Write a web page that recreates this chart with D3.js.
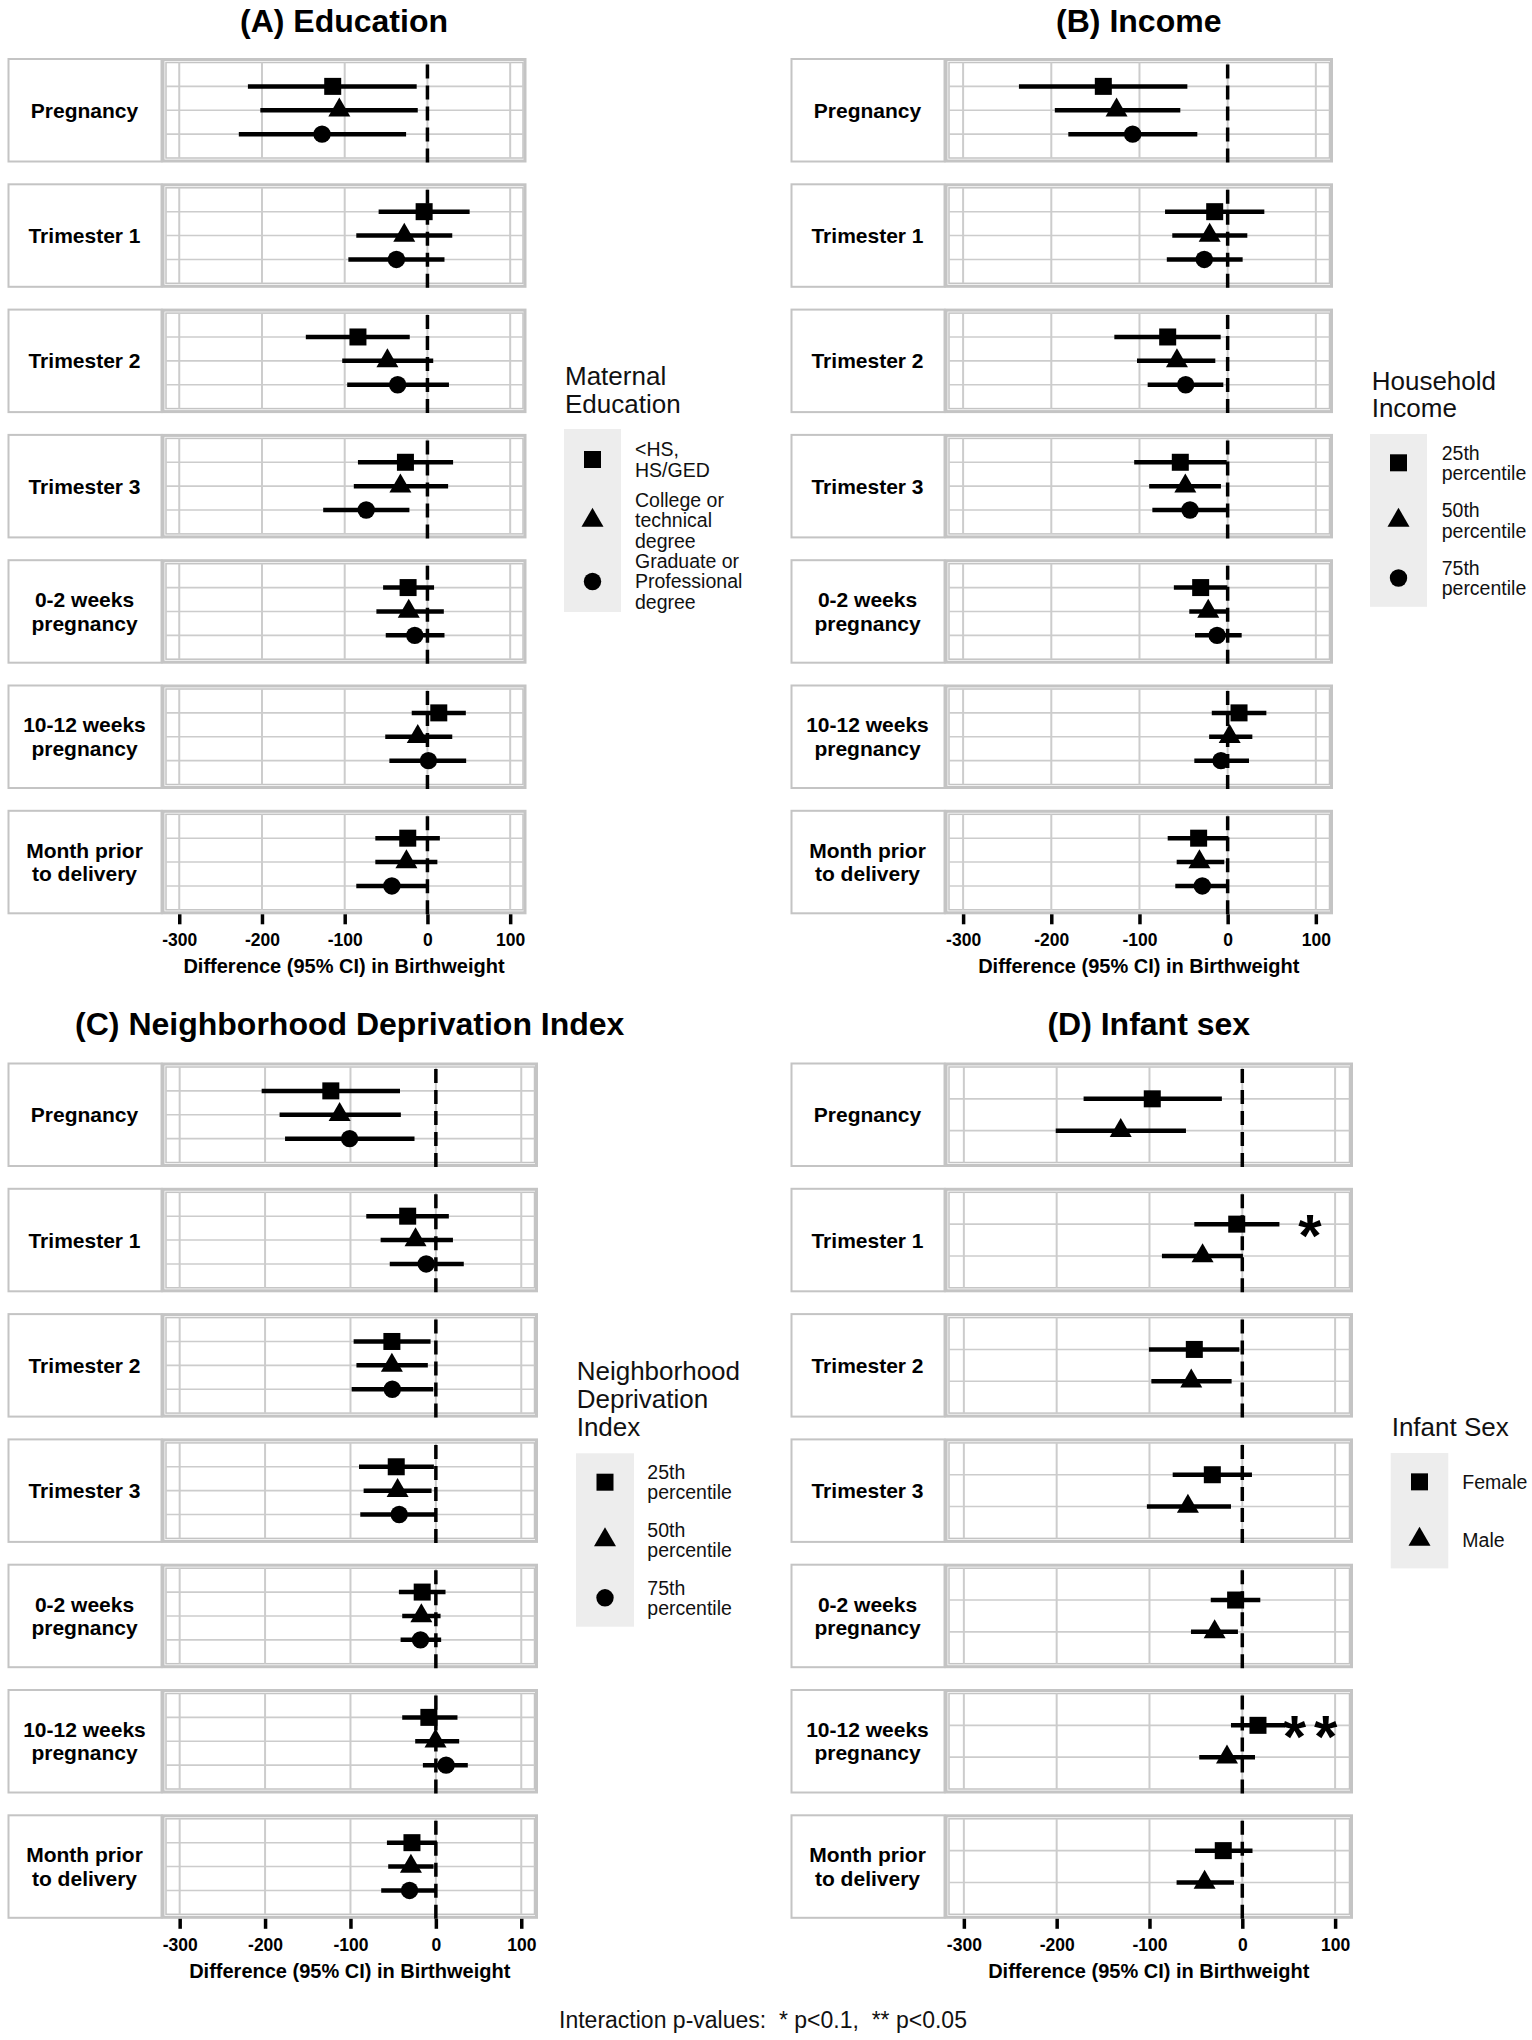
<!DOCTYPE html>
<html><head><meta charset="utf-8">
<script src="https://cdn.jsdelivr.net/npm/d3@7"></script>
<style>
body{margin:0;background:#fff}
svg{display:block;font-family:"Liberation Sans",Arial,Helvetica,sans-serif}
</style>
</head><body>
<svg id="chart" width="1532" height="2040"></svg>
<script>
// ---------------- DATA ----------------
const periodLabels = ["Pregnancy","Trimester 1","Trimester 2","Trimester 3","0-2 weeks\npregnancy","10-12 weeks\npregnancy","Month prior\nto delivery"];
const xTicks = [-300,-200,-100,0,100];
const xTickLabels = ["-300","-200","-100","0","100"];
const xDomain = [-316, 115.5];
const axisTitle = "Difference (95% CI) in Birthweight";
const footnote = "Interaction p-values:  * p<0.1,  ** p<0.05";

// (A) Education
const eduGroups = ["<HS,\nHS/GED","College or\ntechnical\ndegree","Graduate or\nProfessional\ndegree"];
const eduHsEst   = [-114.5,  -4, -84,  -26.6, -23.4, 13.7, -23.8];
const eduHsLo    = [-217,   -59, -147, -84,   -53.6, -19,  -63];
const eduHsHi    = [-13,     51, -21.4, 31,     8,   46.4,  15];
const eduColEst  = [-106.5, -28, -48.4, -32.7, -22.6, -11.7, -25.4];
const eduColLo   = [-202,   -86, -103,  -89,   -61.7, -51,   -63];
const eduColHi   = [-11.7,   30,   7,    25,    19.8,  30,    12];
const eduGradEst = [-127.4, -37.5, -36, -74,   -15.3,  1.2, -43];
const eduGradLo  = [-228,   -95.6, -97, -126,  -50.4, -46,  -86];
const eduGradHi  = [-25.8,   20.6,  26, -21.8,  20.6,  46.8,  0.8];

// (B) Income
const incGroups = ["25th\npercentile","50th\npercentile","75th\npercentile"];
const inc25Est = [-141,  -14.7, -68,   -53.7, -30.6, 12.9, -32.9];
const inc25Lo  = [-236.7,-71,  -128.5, -106,  -61,  -18,   -68];
const inc25Hi  = [-45.7,  41.6,  -7.9,  -1.1,  -0.4, 43.9,   0.8];
const inc50Est = [-126,  -20.4, -57.5, -48,   -22,    2.3, -32];
const inc50Lo  = [-196,  -62.8,-102.8, -89,   -43.5, -21,  -57.8];
const inc50Hi  = [-53.7,  22.3, -14,    -7.6,   0.8,  28,   -3.8];
const inc75Est = [-107.7,-26.5, -47.6, -42.7, -12,   -7.6, -28.7];
const inc75Lo  = [-180.7,-69,   -90.7, -85.4, -37,  -37.8, -59.4];
const inc75Hi  = [-34.4,  17,    -4.9,   0,    15.9, 24.2,   0];

// (C) Neighborhood Deprivation Index
const ndiGroups = ["25th\npercentile","50th\npercentile","75th\npercentile"];
const ndi25Est = [-123,  -33,   -51.5, -46.4, -16,   -8.2, -28];
const ndi25Lo  = [-204,  -81.5, -96.3, -90,   -43.3, -39.4, -57.3];
const ndi25Hi  = [-42,    15.2,  -6.2,  -2.3,  11.3,  25.3,   1.2];
const ndi50Est = [-112.7,-23.8, -51.5, -44.8, -17,   -0.4, -29.2];
const ndi50Lo  = [-183,  -64.7, -93,   -84.6, -39.4, -24.2, -55.8];
const ndi50Hi  = [-41,    20,    -9.4,  -5,     5.5,  27.3,  -2.7];
const ndi75Est = [-101,  -11.3, -51,   -42.9, -18,   12,   -30.8];
const ndi75Lo  = [-176.6,-54,   -98.6, -88.5, -41.3, -15.2, -64];
const ndi75Hi  = [-25,    32.7,  -3.1,   0,     6.2,  37.4,   0.4];

// (D) Infant sex
const sexGroups = ["Female","Male"];
const femEst  = [-97,  -6,   -51.7, -32.3, -7.2, 16.9, -20.5];
const femLo   = [-171, -51.7,-100.6,-75,   -34,  -12.2, -51];
const femHi   = [-22,   40,   -3.2,  10.4,  19.4, 46,    11];
const maleEst = [-131, -42.8, -55,  -58.6, -29.8,-16.5, -40.6];
const maleLo  = [-201, -86.6, -98, -102.8, -55.3,-46.4, -70.8];
const maleHi  = [-60.7,  0.7, -11.5, -12.2, -4.7, 13.7,  -9];
const sexStars = ["","*","","","","**",""];
const starValue = 73;

// ---------------- LAYOUT ----------------
const ROW_H = 104.5, PITCH = 125.3, INSET = 4.5;
const panels = [
  {title:"(A) Education", legendTitle:["Maternal","Education"], groups:eduGroups,
   est:[eduHsEst,eduColEst,eduGradEst], lo:[eduHsLo,eduColLo,eduGradLo], hi:[eduHsHi,eduColHi,eduGradHi],
   strip:7.5, x0:161.5, x1:526.5, top:58, titleY:32,
   leg:{x:564, w:57, top:429, keyH:61, titleX:565, titleBase:[385,412.7], labelX:635}},
  {title:"(B) Income", legendTitle:["Household","Income"], groups:incGroups,
   est:[inc25Est,inc50Est,inc75Est], lo:[inc25Lo,inc50Lo,inc75Lo], hi:[inc25Hi,inc50Hi,inc75Hi],
   strip:790.5, x0:944.5, x1:1333, top:58, titleY:32,
   leg:{x:1370, w:57, top:434, keyH:57.6, titleX:1371.7, titleBase:[390,417], labelX:1441.7}},
  {title:"(C) Neighborhood Deprivation Index", legendTitle:["Neighborhood","Deprivation","Index"], groups:ndiGroups,
   est:[ndi25Est,ndi50Est,ndi75Est], lo:[ndi25Lo,ndi50Lo,ndi75Lo], hi:[ndi25Hi,ndi50Hi,ndi75Hi],
   strip:7.5, x0:161.5, x1:538, top:1062.5, titleY:1035,
   leg:{x:576, w:58, top:1453.3, keyH:57.8, titleX:576.7, titleBase:[1380,1408.3,1436], labelX:647.3}},
  {title:"(D) Infant sex", legendTitle:["Infant Sex"], groups:sexGroups,
   est:[femEst,maleEst], lo:[femLo,maleLo], hi:[femHi,maleHi], stars:sexStars,
   strip:790.5, x0:944.5, x1:1353, top:1062.5, titleY:1035,
   leg:{x:1390.7, w:57.6, top:1453, keyH:57.7, titleX:1391.7, titleBase:[1435.6], labelX:1462.3}}
];

const svg = d3.select("#chart");
const GRID = "#cccccc", BORDER = "#c4c4c4";

function marker(g, shape, cx, cy) {
  if (shape === 0) {
    g.append("rect").attr("x", cx-8.5).attr("y", cy-8.5).attr("width", 17).attr("height", 17).attr("fill","#000");
  } else if (shape === 1) {
    g.append("path").attr("d", `M${cx},${cy-12.7}L${cx+11},${cy+6.3}L${cx-11},${cy+6.3}Z`).attr("fill","#000");
  } else {
    g.append("circle").attr("cx", cx).attr("cy", cy).attr("r", 8.7).attr("fill","#000");
  }
}

function multiline(g, lines, x, cy, size, lh, weight, anchor) {
  const t = g.append("text").attr("x", x).attr("font-size", size).attr("font-weight", weight)
    .attr("text-anchor", anchor).attr("fill", "#000");
  const first = cy - (lines.length-1)*lh/2 + 0.357*size;
  lines.forEach((ln, i) => t.append("tspan").attr("x", x).attr("y", first + i*lh).text(ln));
  return t;
}

panels.forEach(p => {
  const g = svg.append("g");
  const x = d3.scaleLinear().domain(xDomain).range([p.x0 + INSET, p.x1 - 3.5]);
  const n = p.groups.length;
  const cx = (p.x0 + p.x1) / 2;

  g.append("text").attr("x", cx).attr("y", p.titleY).attr("text-anchor","middle")
    .attr("font-size", 32).attr("font-weight","bold").text(p.title);

  periodLabels.forEach((lab, i) => {
    const top = p.top + i*PITCH, bot = top + ROW_H;
    const y = d3.scaleLinear().domain([0, n+1]).range([top + INSET, bot - INSET]);
    const row = g.append("g");
    row.append("rect").attr("x", p.strip+1).attr("y", top+1).attr("width", p.x0 - p.strip - 1).attr("height", ROW_H-2)
      .attr("fill","#fff").attr("stroke", BORDER).attr("stroke-width", 2);
    multiline(row, lab.split("\n"), (p.strip + p.x0)/2, top + ROW_H/2, 21, 23.5, "bold", "middle");
    row.append("rect").attr("x", p.x0+1.5).attr("y", top+1.5).attr("width", p.x1-p.x0-3).attr("height", ROW_H-3)
      .attr("fill","#fff").attr("stroke", BORDER).attr("stroke-width", 3);
    row.append("rect").attr("x", p.x0+INSET).attr("y", top+INSET).attr("width", p.x1-p.x0-INSET-3.5).attr("height", ROW_H-2*INSET)
      .attr("fill","none").attr("stroke", BORDER).attr("stroke-width", 1.5);
    row.selectAll(".vg").data(xTicks).enter().append("line")
      .attr("x1", d => x(d)).attr("x2", d => x(d)).attr("y1", top+INSET).attr("y2", bot-INSET)
      .attr("stroke", GRID).attr("stroke-width", 2);
    row.selectAll(".hg").data(d3.range(1, n+1)).enter().append("line")
      .attr("x1", p.x0+INSET).attr("x2", p.x1-3.5).attr("y1", d => y(d)).attr("y2", d => y(d))
      .attr("stroke", GRID).attr("stroke-width", 1.6);
    row.append("line").attr("x1", x(0)).attr("x2", x(0)).attr("y1", bot).attr("y2", top)
      .attr("stroke","#000").attr("stroke-width", 3.5).attr("stroke-dasharray","14,7");
    for (let k = 0; k < n; k++) {
      const yy = y(k+1);
      row.append("line").attr("x1", x(p.lo[k][i])).attr("x2", x(p.hi[k][i])).attr("y1", yy).attr("y2", yy)
        .attr("stroke","#000").attr("stroke-width", 4.5);
      marker(row, k, x(p.est[k][i]), yy);
    }
    if (p.stars && p.stars[i]) {
      const multi = p.stars[i].length > 1;
      row.append("text").attr("x", x(starValue) + (multi ? 4 : 0)).attr("y", y(1) + 0.6*60 - 4).attr("text-anchor","middle")
        .attr("font-size", 60).attr("font-weight","bold")
        .attr("letter-spacing", multi ? "8px" : "0px").text(p.stars[i]);
    }
  });

  const lastBot = p.top + 6*PITCH + ROW_H;
  const axis = d3.axisBottom(x).tickValues(xTicks).tickFormat((d, i) => xTickLabels[i]).tickSize(10).tickPadding(0);
  const ax = g.append("g").attr("transform", `translate(0,${lastBot})`).call(axis);
  ax.select(".domain").remove();
  ax.selectAll(".tick line").attr("stroke","#000").attr("stroke-width", 3.5);
  ax.selectAll(".tick text").attr("y", 32.2).attr("dy", null).attr("fill","#000")
    .attr("font-size", 17.5).attr("font-weight","bold").attr("font-family", null);
  g.append("text").attr("x", cx).attr("y", lastBot + 58.7).attr("text-anchor","middle")
    .attr("font-size", 20).attr("font-weight","bold").text(axisTitle);

  const L = p.leg;
  p.legendTitle.forEach((t, i) => {
    g.append("text").attr("x", L.titleX).attr("y", L.titleBase[i]).attr("font-size", 26).attr("fill","#111").text(t);
  });
  g.append("rect").attr("x", L.x).attr("y", L.top).attr("width", L.w).attr("height", L.keyH*n).attr("fill","#ededed");
  p.groups.forEach((grp, k) => {
    const ky = L.top + (k+0.5)*L.keyH;
    marker(g, k, L.x + L.w/2, ky);
    const t = multiline(g, grp.split("\n"), L.labelX, ky, 19.5, 20.5, "normal", "start");
    t.attr("fill","#111");
  });
});

svg.append("text").attr("x", 763).attr("y", 2028).attr("text-anchor","middle")
  .attr("font-size", 23).attr("fill","#111").attr("xml:space","preserve").style("white-space","pre").text(footnote);
</script>
</body></html>
